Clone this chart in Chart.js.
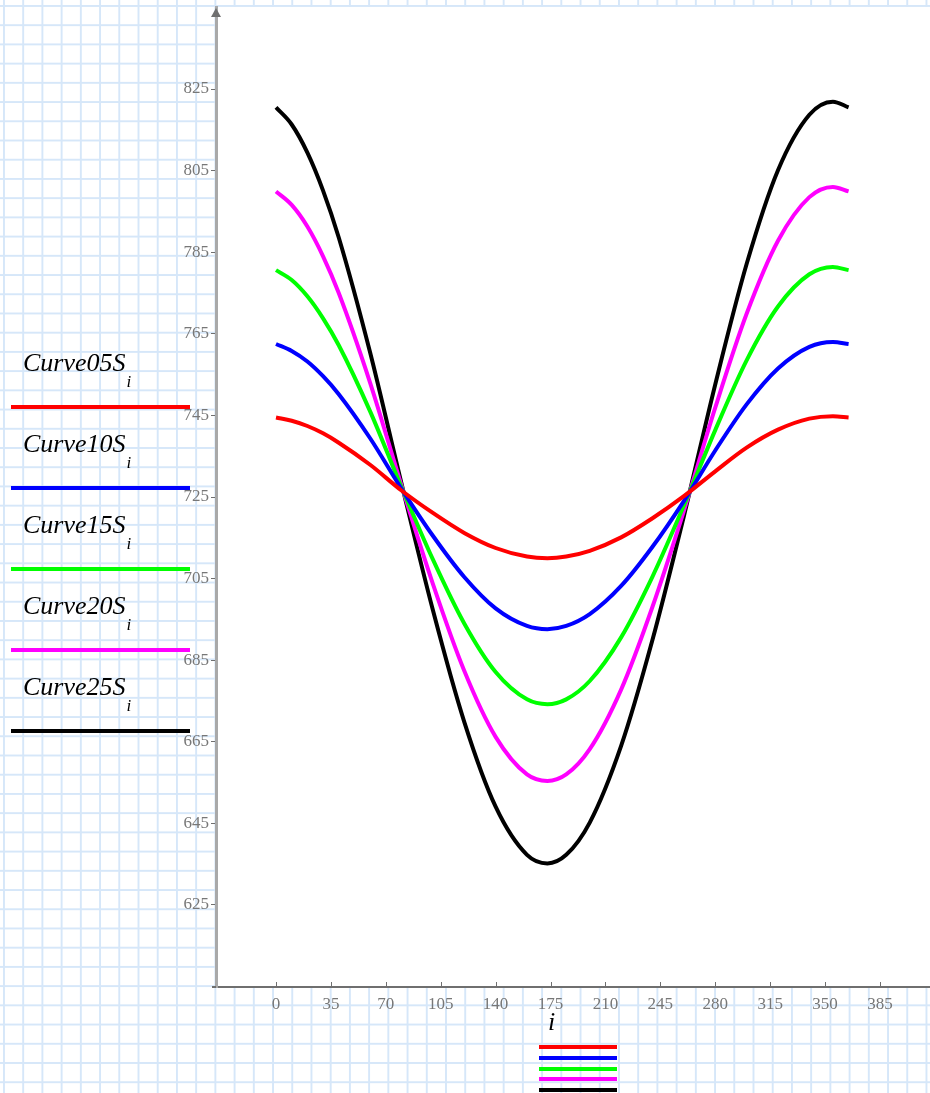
<!DOCTYPE html>
<html>
<head>
<meta charset="utf-8">
<script src="https://cdn.jsdelivr.net/npm/chart.js@4/dist/chart.umd.min.js"></script>
<style>
    html, body {
        margin: 0;
        padding: 0;
    }
    body {
        width: 930px;
        height: 1093px;
        overflow: hidden;
        background-color: #ffffff;
        background-image:
            linear-gradient(to right, #d6e7f9 2px, transparent 2px),
            linear-gradient(to bottom, #d6e7f9 2px, transparent 2px);
        background-size: 19.22px 19.22px;
        background-position: 3px 5px;
    }
    #wrap {
        position: relative;
        width: 930px;
        height: 1093px;
    }
    #chart {
        position: absolute;
        left: 0;
        top: 0;
    }
    .label {
        position: absolute;
        left: 23px;
        font-family: "Liberation Serif", "Times New Roman", serif;
        font-style: italic;
        font-size: 26px;
        line-height: 26px;
        color: #000;
        white-space: nowrap;
    }
    .label span {
        font-size: 17px;
        vertical-align: -16px;
        margin-left: 1px;
    }
    .swatch {
        position: absolute;
        height: 4px;
    }
    #xname {
        position: absolute;
        left: 548px;
        top: 1009px;
        font-family: "Liberation Serif", "Times New Roman", serif;
        font-style: italic;
        font-size: 26px;
        line-height: 26px;
    }
</style>
</head>
<body>
<div id="wrap">
    <canvas id="chart" width="930" height="1093"></canvas>
</div>
<script>
// Day index (x values)
const days = [0, 10, 20, 30, 40, 60, 80, 100, 120, 140, 160, 173, 185, 200, 220, 240, 260, 280, 300, 320, 340, 355, 365];

// Series values
const curve05 = [744.5, 743.7, 742.4, 740.6, 738.3, 732.9, 726.6, 721.1, 716.2, 712.5, 710.4, 710.0, 710.4, 711.8, 715.1, 719.8, 725.2, 731.3, 737.1, 741.5, 744.2, 744.8, 744.5];
const curve10 = [762.5, 760.8, 758.2, 754.6, 750.2, 739.4, 727.0, 715.5, 705.4, 697.7, 693.4, 692.6, 693.4, 696.3, 703.2, 712.8, 724.0, 736.4, 747.7, 756.5, 761.8, 763.0, 762.5];
const curve15 = [780.6, 778.2, 774.2, 768.8, 762.2, 746.0, 727.4, 709.7, 694.0, 682.1, 675.4, 674.2, 675.4, 679.9, 690.6, 705.5, 722.9, 741.4, 758.5, 771.7, 779.6, 781.4, 780.6];
const curve20 = [799.9, 796.6, 791.3, 784.0, 775.0, 753.0, 727.8, 703.7, 682.4, 666.2, 657.0, 655.4, 657.0, 663.2, 677.8, 698.1, 721.6, 746.9, 769.9, 787.8, 798.5, 801.0, 799.9];
const curve25 = [820.5, 816.3, 809.4, 800.1, 788.6, 760.4, 728.3, 697.3, 669.9, 649.1, 637.3, 635.2, 637.3, 645.2, 664.0, 690.0, 720.3, 752.6, 782.1, 805.1, 818.7, 821.9, 820.5];

const seriesNames = ['Curve05S', 'Curve10S', 'Curve15S', 'Curve20S', 'Curve25S'];
const seriesColors = ['#ff0000', '#0000ff', '#00ff00', '#ff00ff', '#000000'];

// Tick labels
const xTicks = [0, 35, 70, 105, 140, 175, 210, 245, 280, 315, 350, 385];
const yTicks = [625, 645, 665, 685, 705, 725, 745, 765, 785, 805, 825];

const allSeries = [curve05, curve10, curve15, curve20, curve25];

// White plot area, axis arrow and inner x ticks
const paperPlugin = {
    id: 'paper',
    beforeDraw(chart) {
        const { ctx, chartArea } = chart;
        ctx.save();
        ctx.fillStyle = '#ffffff';
        ctx.fillRect(chartArea.left, chartArea.top, chartArea.right - chartArea.left, chartArea.bottom - chartArea.top);
        ctx.restore();
    },
    afterDraw(chart) {
        const { ctx, chartArea } = chart;
        const xs = chart.scales.x;
        ctx.save();
        // x ticks pointing up
        ctx.strokeStyle = '#6f6f6f';
        ctx.lineWidth = 1;
        xTicks.forEach(v => {
            const px = Math.round(xs.getPixelForValue(v)) + 0.5;
            ctx.beginPath();
            ctx.moveTo(px, chartArea.bottom - 5);
            ctx.lineTo(px, chartArea.bottom);
            ctx.stroke();
        });
        // x axis stub left of y axis
        ctx.lineWidth = 2;
        ctx.beginPath();
        ctx.moveTo(chartArea.left - 4, chartArea.bottom);
        ctx.lineTo(chartArea.left, chartArea.bottom);
        ctx.stroke();
        // arrow on y axis
        ctx.fillStyle = '#6f6f6f';
        ctx.beginPath();
        ctx.moveTo(chartArea.left, chartArea.top + 1);
        ctx.lineTo(chartArea.left - 5, chartArea.top + 10);
        ctx.lineTo(chartArea.left + 5, chartArea.top + 10);
        ctx.closePath();
        ctx.fill();
        ctx.restore();
    }
};

const chart = new Chart(document.getElementById('chart').getContext('2d'), {
    type: 'line',
    data: {
        datasets: allSeries.map((values, k) => ({
            label: seriesNames[k],
            data: days.map((d, j) => ({ x: d, y: values[j] })),
            borderColor: seriesColors[k],
            borderWidth: 4,
            pointRadius: 0,
            fill: false,
            cubicInterpolationMode: 'monotone'
        }))
    },
    options: {
        responsive: false,
        animation: false,
        devicePixelRatio: 1,
        layout: {
            padding: { top: 7, right: 0, left: 0, bottom: 0 }
        },
        plugins: {
            legend: { display: false },
            tooltip: { enabled: false }
        },
        scales: {
            x: {
                type: 'linear',
                min: -38.25,
                max: 416.9,
                afterFit: scale => {
                    scale.height = 106;
                    scale.paddingLeft = 0;
                    scale.paddingRight = 0;
                },
                afterBuildTicks: scale => { scale.ticks = xTicks.map(v => ({ value: v })); },
                grid: { display: false },
                border: { display: true, color: '#6f6f6f', width: 2 },
                ticks: {
                    color: '#777777',
                    padding: -1,
                    maxRotation: 0,
                    font: { family: 'Liberation Serif', size: 17 },
                    callback: v => String(v)
                }
            },
            y: {
                type: 'linear',
                min: 604.9,
                max: 845.1,
                afterFit: scale => {
                    scale.width = 216;
                    scale.paddingTop = 0;
                    scale.paddingBottom = 0;
                },
                afterBuildTicks: scale => { scale.ticks = yTicks.map(v => ({ value: v })); },
                grid: {
                    drawOnChartArea: false,
                    drawTicks: true,
                    tickLength: 5,
                    color: '#6f6f6f',
                    lineWidth: 1
                },
                border: { display: true, color: '#a9a9a9', width: 3 },
                ticks: {
                    color: '#777777',
                    padding: 2,
                    font: { family: 'Liberation Serif', size: 17 },
                    callback: v => String(v)
                }
            }
        }
    },
    plugins: [paperPlugin]
});

// Left legend: names with subscript and a colour bar under each
const wrap = document.getElementById('wrap');
seriesNames.forEach((name, k) => {
    const lab = document.createElement('div');
    lab.className = 'label';
    lab.style.top = (350 + k * 81) + 'px';
    lab.innerHTML = name + '<span>i</span>';
    wrap.appendChild(lab);

    const bar = document.createElement('div');
    bar.className = 'swatch';
    bar.style.left = '11px';
    bar.style.width = '179px';
    bar.style.top = (405 + k * 81) + 'px';
    bar.style.background = seriesColors[k];
    wrap.appendChild(bar);

    const bar2 = document.createElement('div');
    bar2.className = 'swatch';
    bar2.style.left = '539px';
    bar2.style.width = '78px';
    bar2.style.top = Math.round(1045 + k * 10.75) + 'px';
    bar2.style.background = seriesColors[k];
    wrap.appendChild(bar2);
});

const xname = document.createElement('div');
xname.id = 'xname';
xname.textContent = 'i';
wrap.appendChild(xname);
</script>
</body>
</html>
